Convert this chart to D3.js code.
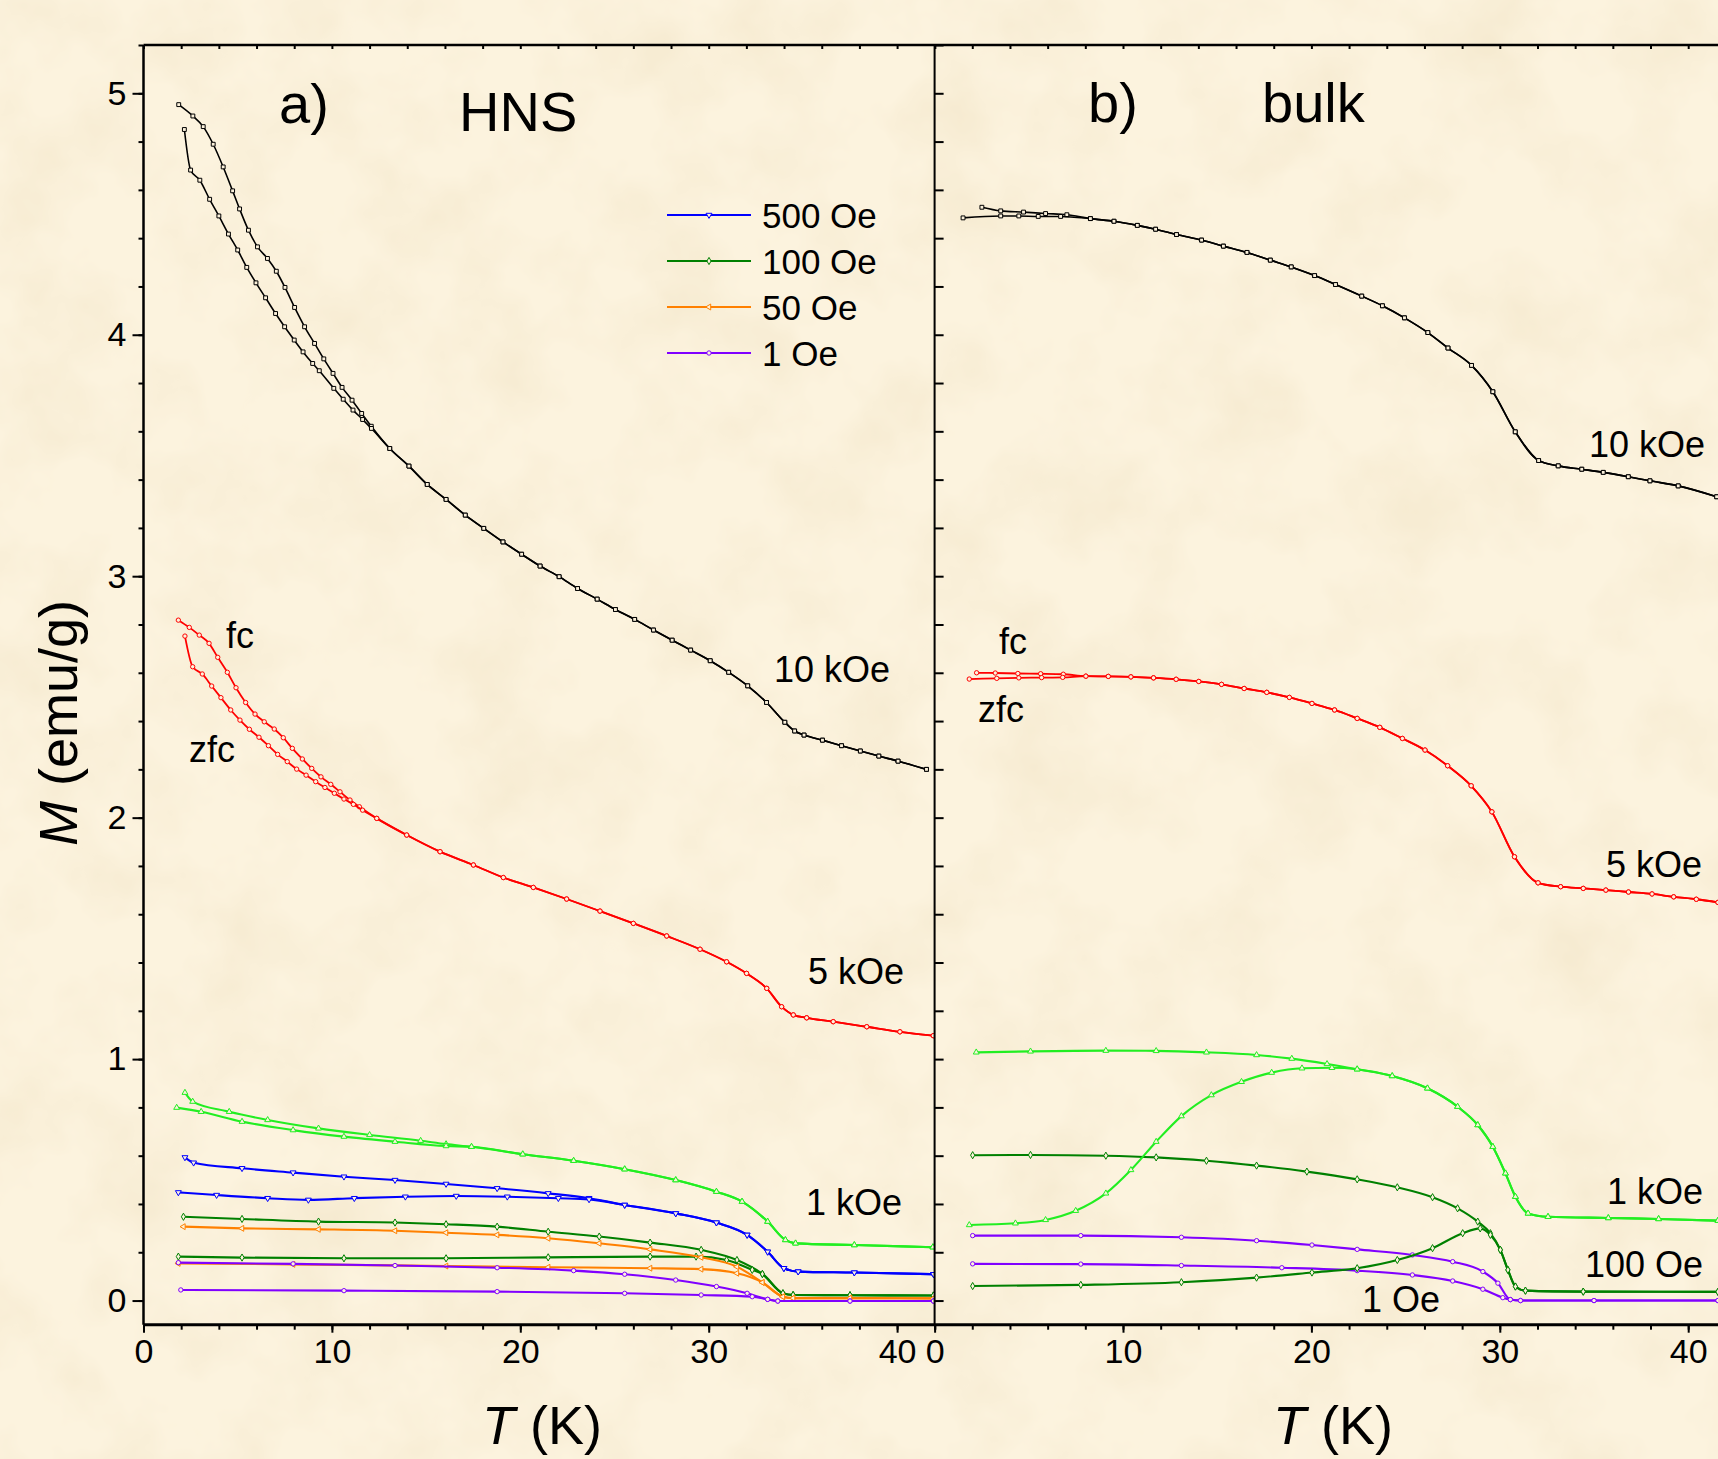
<!DOCTYPE html>
<html>
<head>
<meta charset="utf-8">
<script src="https://cdn.jsdelivr.net/npm/d3@7"></script>
<style>
    body { margin: 0; background: #fcf2dc; }
    svg { display: block; }
    text { font-family: "Liberation Sans", Arial, sans-serif; fill: #000; }
</style>
</head>
<body>
<svg id="chart" width="1718" height="1459"></svg>
<script>
// ---------- Data: [T (K), M (emu/g)] ----------

// Panel a) HNS
const hns10kFcHead = [[1.87,4.953],[2.62,4.906],[3.17,4.862],[3.70,4.789],[4.23,4.695],[4.73,4.596],[5.10,4.521],[5.57,4.433],[6.05,4.364],[6.58,4.316],[7.05,4.263],[7.51,4.196],[8.02,4.113],[8.55,4.033],[9.08,3.964],[9.57,3.900],[10.06,3.840],[10.54,3.782],[11.07,3.729],[11.58,3.674],[12.09,3.621]];
const hns10kZfcHead = [[2.17,4.850],[2.50,4.682],[2.99,4.640],[3.51,4.561],[4.00,4.492],[4.51,4.417],[5.00,4.351],[5.48,4.279],[5.97,4.215],[6.48,4.153],[7.01,4.088],[7.49,4.033],[8.00,3.978],[8.47,3.929],[8.98,3.881],[9.33,3.851],[10.10,3.778],[10.60,3.733],[11.12,3.688],[11.63,3.649],[12.10,3.612]];
const hns10kTail = [[13.07,3.529],[14.09,3.456],[15.06,3.380],[16.06,3.318],[17.08,3.253],[18.06,3.198],[19.08,3.142],[20.07,3.091],[21.05,3.042],[22.06,2.998],[23.04,2.949],[24.08,2.905],[25.05,2.862],[26.07,2.821],[27.07,2.777],[28.06,2.735],[29.04,2.694],[30.08,2.650],[31.06,2.602],[32.07,2.546],[33.07,2.477],[34.04,2.395],[34.56,2.359],[35.06,2.342],[36.04,2.321],[37.05,2.298],[38.05,2.276],[39.03,2.255],[40.05,2.234],[41.56,2.200]];

const hns5kFcHead = [[1.85,2.818],[2.43,2.788],[2.96,2.756],[3.48,2.722],[3.94,2.664],[4.45,2.602],[4.91,2.538],[5.42,2.477],[5.92,2.429],[6.41,2.397],[6.94,2.367],[7.42,2.331],[7.90,2.287],[8.43,2.243],[8.93,2.204],[9.42,2.169],[9.94,2.138],[10.43,2.107],[10.96,2.073],[11.46,2.045]];
const hns5kZfcHead = [[2.20,2.752],[2.61,2.625],[3.12,2.595],[3.62,2.545],[4.11,2.497],[4.63,2.446],[5.12,2.404],[5.62,2.366],[6.13,2.333],[6.63,2.298],[7.12,2.262],[7.63,2.232],[8.13,2.201],[8.63,2.176],[9.14,2.149],[9.63,2.125],[10.13,2.101],[10.64,2.077],[11.14,2.055],[11.63,2.031]];
const hns5kTail = [[12.38,1.997],[13.97,1.928],[15.74,1.859],[17.51,1.804],[19.10,1.752],[20.69,1.711],[22.46,1.663],[24.23,1.613],[26.00,1.562],[27.77,1.510],[29.54,1.455],[30.95,1.403],[32.01,1.355],[33.08,1.293],[33.87,1.217],[34.49,1.183],[35.20,1.171],[36.61,1.155],[38.39,1.134],[40.15,1.113],[41.92,1.097]];

const hns1kFcHead = [[2.20,0.861],[2.61,0.824],[4.55,0.782],[6.59,0.748],[9.29,0.713],[12.00,0.686],[14.71,0.662],[16.06,0.648]];
const hns1kZfcHead = [[1.76,0.799],[3.06,0.782],[5.23,0.741],[7.94,0.706],[10.64,0.679],[13.35,0.658],[16.06,0.640]];
const hns1kTail = [[17.41,0.637],[20.13,0.606],[22.83,0.579],[25.54,0.544],[28.25,0.499],[30.41,0.451],[31.77,0.410],[33.13,0.327],[34.07,0.251],[34.61,0.237],[37.73,0.230],[41.90,0.221]];

const hns500FcHead = [[2.20,0.593],[2.66,0.571],[5.23,0.548],[7.94,0.530],[10.64,0.513],[13.35,0.499],[16.06,0.483],[18.77,0.465],[21.48,0.444],[23.65,0.424]];
const hns500ZfcHead = [[1.85,0.448],[3.88,0.437],[6.59,0.424],[8.75,0.417],[11.19,0.424],[13.90,0.430],[16.60,0.433],[19.31,0.430],[22.02,0.424],[23.65,0.419]];
const hns500Tail = [[25.54,0.396],[28.25,0.361],[30.41,0.323],[32.04,0.272],[33.13,0.202],[33.99,0.134],[34.75,0.120],[37.73,0.116],[41.93,0.109]];

const hns100FcHead = [[2.12,0.347],[5.23,0.338],[9.29,0.327],[13.35,0.323],[16.06,0.316],[18.77,0.306],[21.48,0.285],[24.19,0.265],[26.89,0.240],[29.60,0.210],[31.50,0.168]];
const hns100ZfcHead = [[1.85,0.182],[5.23,0.178],[10.64,0.175],[16.06,0.175],[21.48,0.179],[26.89,0.182],[29.33,0.182],[30.95,0.168],[32.31,0.127]];
const hns100Tail = [[32.85,0.110],[33.94,0.030],[34.48,0.023],[37.50,0.022],[41.93,0.021]];

const hns50FcHead = [[2.12,0.306],[5.23,0.299],[9.29,0.295],[13.35,0.289],[16.06,0.281],[18.77,0.272],[21.48,0.258],[24.19,0.237],[26.89,0.212],[29.60,0.179],[31.50,0.140]];
const hns50ZfcHead = [[1.85,0.154],[7.94,0.150],[16.06,0.143],[21.48,0.138],[26.89,0.134],[29.60,0.130],[31.50,0.113]];
const hns50Tail = [[32.85,0.075],[33.94,0.016],[34.48,0.010],[37.50,0.010],[41.93,0.009]];

const hns1FcHead = [[1.85,0.157],[7.94,0.152],[13.35,0.145],[18.77,0.136],[22.83,0.124],[25.54,0.109],[28.25,0.085],[30.41,0.058],[32.04,0.030]];
const hns1ZfcHead = [[1.98,0.044],[10.64,0.041],[18.77,0.037],[25.54,0.030],[29.60,0.023],[32.31,0.016]];
const hns1Tail = [[33.13,0.005],[33.67,-0.002],[37.50,-0.002],[41.93,-0.002]];

// Panel b) bulk
const bulk10kFcHead = [[2.51,4.528],[3.51,4.513],[4.72,4.508],[5.89,4.502],[7.02,4.497]];
const bulk10kZfcHead = [[1.51,4.484],[3.51,4.492],[4.47,4.492],[5.50,4.490],[6.69,4.490]];
const bulk10kTail = [[8.27,4.481],[9.52,4.470],[10.76,4.453],[11.73,4.437],[12.84,4.415],[14.17,4.392],[15.33,4.367],[16.58,4.341],[17.82,4.309],[18.93,4.281],[20.17,4.245],[21.28,4.208],[22.67,4.160],[23.77,4.120],[24.94,4.070],[26.18,4.009],[27.25,3.945],[28.50,3.873],[29.63,3.764],[30.82,3.598],[32.06,3.479],[33.10,3.457],[34.35,3.443],[35.49,3.430],[36.82,3.412],[37.97,3.395],[39.47,3.374],[41.51,3.329]];

const bulk5kFcHead = [[2.23,2.600],[3.22,2.599],[4.42,2.597],[5.63,2.596],[6.83,2.594]];
const bulk5kZfcHead = [[1.84,2.574],[3.30,2.577],[4.47,2.579],[5.68,2.580],[6.80,2.581]];
const bulk5kTail = [[8.03,2.586],[9.22,2.585],[10.42,2.583],[11.62,2.579],[12.82,2.573],[14.02,2.564],[15.23,2.552],[16.43,2.535],[17.63,2.519],[18.83,2.498],[20.03,2.473],[21.23,2.446],[22.43,2.411],[23.63,2.374],[24.83,2.328],[26.03,2.280],[27.23,2.215],[28.48,2.132],[29.58,2.024],[30.78,1.838],[32.03,1.730],[33.23,1.714],[34.43,1.707],[35.63,1.700],[36.83,1.692],[38.08,1.684],[39.23,1.672],[40.43,1.662],[41.58,1.649]];

const bulk1kFcHead = [[2.21,1.028],[5.09,1.032],[9.09,1.035],[11.76,1.034],[14.43,1.028],[17.09,1.017],[18.96,1.002],[20.83,0.980],[22.43,0.958]];
const bulk1kZfcHead = [[1.84,0.313],[4.29,0.320],[5.89,0.334],[7.49,0.372],[9.09,0.444],[10.42,0.541],[11.76,0.658],[13.10,0.764],[14.69,0.851],[16.29,0.906],[17.89,0.944],[19.50,0.962],[21.09,0.964],[22.43,0.958]];
const bulk1kTail = [[24.29,0.930],[26.16,0.879],[27.76,0.803],[28.83,0.727],[29.63,0.637],[30.30,0.527],[30.83,0.430],[31.50,0.361],[32.56,0.347],[35.76,0.342],[38.43,0.338],[41.58,0.331]];

const bulk100FcHead = [[2.02,0.602],[5.09,0.603],[9.09,0.600],[11.76,0.593],[14.43,0.579],[17.09,0.559],[19.76,0.534],[22.43,0.502],[24.56,0.469],[26.43,0.428],[27.76,0.382],[28.83,0.327],[29.50,0.279]];
const bulk100ZfcHead = [[2.02,0.060],[7.76,0.065],[13.10,0.076],[17.09,0.095],[20.03,0.116],[22.43,0.134],[24.56,0.168],[26.43,0.217],[28.03,0.279],[28.96,0.299],[29.50,0.272]];
const bulk100Tail = [[30.03,0.210],[30.43,0.127],[30.83,0.058],[31.36,0.041],[34.43,0.037],[41.58,0.036]];

const bulk1FcHead = [[2.02,0.269],[7.76,0.269],[13.10,0.262],[17.09,0.248],[20.03,0.230],[22.43,0.212],[25.36,0.189],[27.50,0.161],[29.10,0.120],[29.90,0.072]];
const bulk1ZfcHead = [[2.02,0.152],[7.76,0.151],[13.10,0.145],[18.43,0.136],[22.43,0.124],[25.36,0.106],[27.50,0.081],[29.10,0.047],[30.16,0.012]];
const bulk1Tail = [[30.56,0.004],[31.10,0.000],[35.00,0.000],[41.58,0.000]];

// Axis ticks and labels
const xMajorTicks = [0, 10, 20, 30, 40];
const yMajorTicks = [0, 1, 2, 3, 4, 5];
const legendLabels = ["500 Oe", "100 Oe", "50 Oe", "1 Oe"];
const legendColors = ["#0000ff", "#008000", "#ff8000", "#8000ff"];
const legendSymbols = ["down", "diamond", "left", "circle"];

// ---------- Layout ----------
const W = 1718, H = 1459;
const plotTop = 45, plotBottom = 1324.7;
const leftA = 143.5, leftB = 934.6, pxPerK = 18.84;

const xA = d3.scaleLinear().domain([0, 42]).range([leftA, leftA + 42 * pxPerK]);
const xB = d3.scaleLinear().domain([0, 42]).range([leftB, leftB + 42 * pxPerK]);
const y = d3.scaleLinear().domain([-0.1, 5.2]).range([plotBottom, plotTop]);

const svg = d3.select("#chart");
const defs = svg.append("defs");

// Parchment texture for the background
const paper = defs.append("filter").attr("id", "paper")
    .attr("x", 0).attr("y", 0).attr("width", "100%").attr("height", "100%");
paper.append("feTurbulence")
    .attr("type", "fractalNoise").attr("baseFrequency", 0.011)
    .attr("numOctaves", 4).attr("seed", 7);
paper.append("feColorMatrix").attr("type", "matrix")
    .attr("values", "0 0 0 0 0.90  0 0 0 0 0.80  0 0 0 0 0.60  1.4 0 0 0 -0.56");

svg.append("rect").attr("width", W).attr("height", H).attr("fill", "#fcf3de");
svg.append("rect").attr("width", W).attr("height", H).attr("filter", "url(#paper)");

// Clip each panel to its plotting area
defs.append("clipPath").attr("id", "clipA").append("rect")
    .attr("x", leftA).attr("y", plotTop).attr("width", leftB - leftA).attr("height", plotBottom - plotTop);
defs.append("clipPath").attr("id", "clipB").append("rect")
    .attr("x", leftB).attr("y", plotTop).attr("width", W - leftB).attr("height", plotBottom - plotTop);

// Marker shapes
function symbolPath(kind, size) {
    const types = { square: d3.symbolSquare, circle: d3.symbolCircle, diamond: d3.symbolDiamond,
                    up: d3.symbolTriangle, down: d3.symbolTriangle, left: d3.symbolTriangle };
    return d3.symbol().type(types[kind]).size(size)();
}
function symbolRotation(kind) {
    if (kind === "down") return 180;
    if (kind === "left") return -90;
    return 0;
}

// Series list built from the arrays above; w is the line width
const seriesList = [
    { panel: "a", color: "#008000", sym: "diamond", w: 2.1, pts: hns100FcHead.concat(hns100Tail) },
    { panel: "a", color: "#008000", sym: "diamond", w: 2.1, pts: hns100ZfcHead.concat(hns100Tail) },
    { panel: "a", color: "#ff8000", sym: "left", w: 2.1, pts: hns50FcHead.concat(hns50Tail) },
    { panel: "a", color: "#ff8000", sym: "left", w: 2.1, pts: hns50ZfcHead.concat(hns50Tail) },
    { panel: "a", color: "#8000ff", sym: "circle", w: 2.1, pts: hns1FcHead.concat(hns1Tail) },
    { panel: "a", color: "#8000ff", sym: "circle", w: 2.1, pts: hns1ZfcHead.concat(hns1Tail) },
    { panel: "a", color: "#0000ff", sym: "down", w: 2.1, pts: hns500FcHead.concat(hns500Tail) },
    { panel: "a", color: "#0000ff", sym: "down", w: 2.1, pts: hns500ZfcHead.concat(hns500Tail) },
    { panel: "a", color: "#22ee22", sym: "up", w: 2.1, pts: hns1kFcHead.concat(hns1kTail) },
    { panel: "a", color: "#22ee22", sym: "up", w: 2.1, pts: hns1kZfcHead.concat(hns1kTail) },
    { panel: "a", color: "#ff0000", sym: "circle", w: 1.8, pts: hns5kFcHead.concat(hns5kTail) },
    { panel: "a", color: "#ff0000", sym: "circle", w: 1.8, pts: hns5kZfcHead.concat(hns5kTail) },
    { panel: "a", color: "#000000", sym: "square", w: 1.6, pts: hns10kFcHead.concat(hns10kTail) },
    { panel: "a", color: "#000000", sym: "square", w: 1.6, pts: hns10kZfcHead.concat(hns10kTail) },
    { panel: "b", color: "#8000ff", sym: "circle", w: 2.1, pts: bulk1FcHead.concat(bulk1Tail) },
    { panel: "b", color: "#8000ff", sym: "circle", w: 2.1, pts: bulk1ZfcHead.concat(bulk1Tail) },
    { panel: "b", color: "#008000", sym: "diamond", w: 2.1, pts: bulk100FcHead.concat(bulk100Tail) },
    { panel: "b", color: "#008000", sym: "diamond", w: 2.1, pts: bulk100ZfcHead.concat(bulk100Tail) },
    { panel: "b", color: "#22ee22", sym: "up", w: 2.1, pts: bulk1kFcHead.concat(bulk1kTail) },
    { panel: "b", color: "#22ee22", sym: "up", w: 2.1, pts: bulk1kZfcHead.concat(bulk1kTail) },
    { panel: "b", color: "#ff0000", sym: "circle", w: 1.8, pts: bulk5kFcHead.concat(bulk5kTail) },
    { panel: "b", color: "#ff0000", sym: "circle", w: 1.8, pts: bulk5kZfcHead.concat(bulk5kTail) },
    { panel: "b", color: "#000000", sym: "square", w: 1.6, pts: bulk10kFcHead.concat(bulk10kTail) },
    { panel: "b", color: "#000000", sym: "square", w: 1.6, pts: bulk10kZfcHead.concat(bulk10kTail) }
];

// ---------- Curves ----------
const bodyA = svg.append("g").attr("clip-path", "url(#clipA)");
const bodyB = svg.append("g").attr("clip-path", "url(#clipB)");

seriesList.forEach(s => {
    const xs = s.panel === "a" ? xA : xB;
    const body = s.panel === "a" ? bodyA : bodyB;
    const line = d3.line()
        .x(d => xs(d[0]))
        .y(d => y(d[1]))
        .curve(d3.curveMonotoneX);

    body.append("path")
        .datum(s.pts)
        .attr("d", line)
        .attr("fill", "none")
        .attr("stroke", s.color)
        .attr("stroke-width", s.w);

    body.selectAll(null)
        .data(s.pts)
        .enter()
        .append("path")
        .attr("d", symbolPath(s.sym, 15))
        .attr("transform", d => `translate(${xs(d[0])},${y(d[1])}) rotate(${symbolRotation(s.sym)})`)
        .attr("fill", "#fcf2dc")
        .attr("stroke", s.color)
        .attr("stroke-width", 1);
});

// ---------- Axes ----------
const minorX = d3.range(0, 22).map(i => i * 2);
const minorY = d3.range(0, 27).map(i => +(i * 0.2).toFixed(1));

function styleAxis(g) {
    g.select(".domain").remove();
    g.selectAll(".tick line").attr("stroke", "#000").attr("stroke-width", 2);
    g.selectAll(".tick text").style("font-size", "34px").attr("fill", "#000");
}

// Panel a left axis: outward ticks with labels
svg.append("g").attr("transform", `translate(${leftA},0)`)
    .call(d3.axisLeft(y).tickValues(minorY).tickSize(5).tickFormat(""))
    .call(styleAxis);
svg.append("g").attr("transform", `translate(${leftA},0)`)
    .call(d3.axisLeft(y).tickValues(yMajorTicks).tickSize(11).tickPadding(6).tickFormat(d3.format("d")))
    .call(styleAxis);

// Panel b left axis: inward ticks, no labels
svg.append("g").attr("transform", `translate(${leftB},0)`)
    .call(d3.axisRight(y).tickValues(minorY).tickSize(9).tickFormat(""))
    .call(styleAxis);

// Bottom axes for both panels
[xA, xB].forEach(xs => {
    svg.append("g").attr("transform", `translate(0,${plotBottom})`)
        .call(d3.axisBottom(xs).tickValues(minorX).tickSize(5).tickFormat(""))
        .call(styleAxis);
    svg.append("g").attr("transform", `translate(0,${plotBottom})`)
        .call(d3.axisBottom(xs).tickValues(xMajorTicks).tickSize(8).tickPadding(6).tickFormat(d3.format("d")))
        .call(styleAxis);
    // Top axis: small inward ticks
    svg.append("g").attr("transform", `translate(0,${plotTop})`)
        .call(d3.axisBottom(xs).tickValues(minorX).tickSize(4).tickFormat(""))
        .call(styleAxis);
});

// Frame lines
const frame = svg.append("g").attr("stroke", "#000");
frame.append("line").attr("x1", leftA).attr("x2", W).attr("y1", plotTop).attr("y2", plotTop).attr("stroke-width", 2.5);
frame.append("line").attr("x1", leftA).attr("x2", W).attr("y1", plotBottom).attr("y2", plotBottom).attr("stroke-width", 3);
frame.append("line").attr("x1", leftA).attr("x2", leftA).attr("y1", plotTop).attr("y2", plotBottom).attr("stroke-width", 2.5);
frame.append("line").attr("x1", leftB).attr("x2", leftB).attr("y1", plotTop).attr("y2", plotBottom).attr("stroke-width", 2);

// ---------- Axis titles ----------
const yTitle = svg.append("text")
    .attr("transform", "translate(77,723) rotate(-90)")
    .attr("text-anchor", "middle")
    .style("font-size", "54px");
yTitle.append("tspan").style("font-style", "italic").text("M");
yTitle.append("tspan").text(" (emu/g)");

[[xA, 542], [xB, 1333]].forEach(([xs, cx]) => {
    const t = svg.append("text")
        .attr("x", cx).attr("y", 1444)
        .attr("text-anchor", "middle")
        .style("font-size", "54px");
    t.append("tspan").style("font-style", "italic").text("T");
    t.append("tspan").text(" (K)");
});

// ---------- Panel titles and curve labels ----------
function label(x, yPos, txt, size) {
    svg.append("text").attr("x", x).attr("y", yPos).text(txt).style("font-size", size + "px");
}
label(279, 123, "a)", 56);
label(459, 131, "HNS", 56);
label(1088, 122, "b)", 56);
label(1262, 122, "bulk", 56);

label(226, 648, "fc", 36);
label(189, 762, "zfc", 36);
label(774, 682, "10 kOe", 36);
label(808, 984, "5 kOe", 36);
label(806, 1215, "1 kOe", 36);

label(999, 654, "fc", 36);
label(978, 722, "zfc", 36);
label(1589, 457, "10 kOe", 36);
label(1606, 877, "5 kOe", 36);
label(1607, 1204, "1 kOe", 36);
label(1585, 1277, "100 Oe", 36);
label(1362, 1312, "1 Oe", 36);

// ---------- Legend ----------
const legend = svg.append("g");
legendLabels.forEach((name, i) => {
    const ly = 215 + i * 46;
    legend.append("line")
        .attr("x1", 667).attr("x2", 751).attr("y1", ly).attr("y2", ly)
        .attr("stroke", legendColors[i]).attr("stroke-width", 2);
    legend.append("path")
        .attr("d", symbolPath(legendSymbols[i], 15))
        .attr("transform", `translate(709,${ly}) rotate(${symbolRotation(legendSymbols[i])})`)
        .attr("fill", "#fcf2dc")
        .attr("stroke", legendColors[i])
        .attr("stroke-width", 1);
    legend.append("text")
        .attr("x", 762).attr("y", ly + 13)
        .text(name)
        .style("font-size", "35px");
});
</script>
</body>
</html>
